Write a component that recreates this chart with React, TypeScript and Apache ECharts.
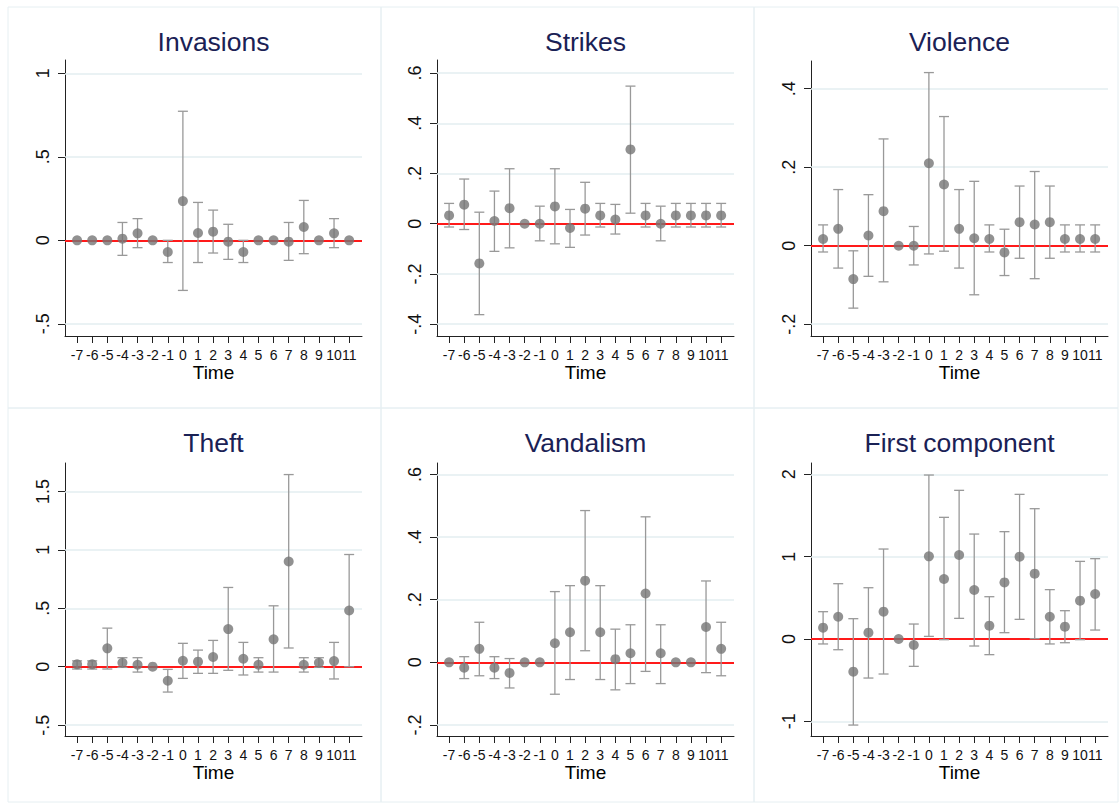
import React, { useEffect, useRef } from "react";
import * as echarts from "echarts";

// ---------- DATA ----------
const timeValues = [-7, -6, -5, -4, -3, -2, -1, 0, 1, 2, 3, 4, 5, 6, 7, 8, 9, 10, 11];

const invasionsEst = [0, 0, 0, 0.01, 0.042, 0, -0.07, 0.235, 0.044, 0.052, -0.008, -0.07, 0, 0, -0.008, 0.08, 0, 0.042, 0];
const invasionsLo = [0, 0, 0, -0.09, -0.044, 0, -0.133, -0.3, -0.133, -0.076, -0.114, -0.133, 0, 0, -0.12, -0.08, 0, -0.044, 0];
const invasionsHi = [0, 0, 0, 0.107, 0.13, 0, 0, 0.773, 0.227, 0.181, 0.096, 0, 0, 0, 0.107, 0.239, 0, 0.13, 0];

const strikesEst = [0.033, 0.076, -0.158, 0.011, 0.062, 0, 0, 0.069, -0.017, 0.06, 0.033, 0.017, 0.296, 0.033, 0, 0.033, 0.033, 0.033, 0.033];
const strikesLo = [-0.013, -0.023, -0.362, -0.11, -0.096, 0, -0.068, -0.08, -0.094, -0.045, -0.013, -0.041, 0.042, -0.013, -0.068, -0.013, -0.013, -0.013, -0.013];
const strikesHi = [0.081, 0.178, 0.046, 0.13, 0.219, 0, 0.07, 0.219, 0.057, 0.165, 0.081, 0.077, 0.548, 0.081, 0.07, 0.081, 0.081, 0.081, 0.081];

const violenceEst = [0.017, 0.043, -0.085, 0.026, 0.088, 0, 0, 0.21, 0.156, 0.043, 0.019, 0.017, -0.017, 0.06, 0.054, 0.06, 0.017, 0.017, 0.017];
const violenceLo = [-0.016, -0.057, -0.159, -0.078, -0.092, 0, -0.049, -0.021, -0.014, -0.057, -0.125, -0.016, -0.076, -0.032, -0.084, -0.032, -0.016, -0.016, -0.016];
const violenceHi = [0.053, 0.143, -0.013, 0.13, 0.272, 0, 0.049, 0.441, 0.329, 0.143, 0.164, 0.053, 0.042, 0.152, 0.189, 0.152, 0.053, 0.053, 0.053];

const theftEst = [0.02, 0.02, 0.157, 0.034, 0.017, 0, -0.12, 0.051, 0.043, 0.083, 0.322, 0.068, 0.017, 0.234, 0.9, 0.017, 0.034, 0.048, 0.481];
const theftLo = [-0.02, -0.02, -0.02, -0.006, -0.046, 0, -0.217, -0.1, -0.057, -0.057, -0.031, -0.071, -0.046, -0.046, 0.16, -0.046, -0.006, -0.105, 0];
const theftHi = [0.05, 0.05, 0.33, 0.077, 0.077, 0, -0.023, 0.2, 0.142, 0.225, 0.678, 0.208, 0.077, 0.521, 1.644, 0.077, 0.077, 0.208, 0.96];

const vandalismEst = [0, -0.017, 0.043, -0.017, -0.034, 0, 0, 0.061, 0.096, 0.261, 0.096, 0.01, 0.029, 0.22, 0.029, 0, 0, 0.113, 0.043];
const vandalismLo = [0, -0.052, -0.043, -0.052, -0.082, 0, 0, -0.102, -0.055, 0.037, -0.055, -0.088, -0.068, -0.029, -0.068, 0, 0, -0.033, -0.043];
const vandalismHi = [0, 0.018, 0.128, 0.018, 0.012, 0, 0, 0.226, 0.245, 0.485, 0.245, 0.106, 0.12, 0.465, 0.12, 0, 0, 0.26, 0.128];

const firstCompEst = [0.138, 0.271, -0.397, 0.077, 0.332, 0, -0.073, 1.004, 0.729, 1.02, 0.595, 0.162, 0.688, 1.0, 0.794, 0.271, 0.15, 0.466, 0.547];
const firstCompLo = [-0.06, -0.13, -1.045, -0.474, -0.425, 0, -0.332, 0.032, -0.008, 0.251, -0.085, -0.19, 0.077, 0.239, 0.004, -0.06, -0.045, -0.008, 0.109];
const firstCompHi = [0.332, 0.672, 0.247, 0.623, 1.093, 0, 0.182, 1.992, 1.478, 1.806, 1.275, 0.514, 1.304, 1.757, 1.583, 0.6, 0.344, 0.943, 0.976];

const invasionsTicks = [-0.5, 0, 0.5, 1];
const strikesTicks = [-0.4, -0.2, 0, 0.2, 0.4, 0.6];
const violenceTicks = [-0.2, 0, 0.2, 0.4];
const theftTicks = [-0.5, 0, 0.5, 1, 1.5];
const vandalismTicks = [-0.2, 0, 0.2, 0.4, 0.6];
const firstCompTicks = [-1, 0, 1, 2];

const panelTitles = ["Invasions", "Strikes", "Violence", "Theft", "Vandalism", "First component"];
const xAxisName = "Time";

// ---------- LAYOUT / STYLE ----------
const FONT = "'Liberation Sans', Arial, Helvetica, sans-serif";
const panels = [
  { title: panelTitles[0], est: invasionsEst, lo: invasionsLo, hi: invasionsHi, ticks: invasionsTicks, yMin: -0.573, yMax: 1.08, left: 65, top: 60, height: 276 },
  { title: panelTitles[1], est: strikesEst, lo: strikesLo, hi: strikesHi, ticks: strikesTicks, yMin: -0.447, yMax: 0.652, left: 437, top: 60, height: 276 },
  { title: panelTitles[2], est: violenceEst, lo: violenceLo, hi: violenceHi, ticks: violenceTicks, yMin: -0.23, yMax: 0.4705, left: 811, top: 61, height: 275 },
  { title: panelTitles[3], est: theftEst, lo: theftLo, hi: theftHi, ticks: theftTicks, yMin: -0.593, yMax: 1.743, left: 65, top: 463, height: 273 },
  { title: panelTitles[4], est: vandalismEst, lo: vandalismLo, hi: vandalismHi, ticks: vandalismTicks, yMin: -0.2355, yMax: 0.637, left: 437, top: 463, height: 273 },
  { title: panelTitles[5], est: firstCompEst, lo: firstCompLo, hi: firstCompHi, ticks: firstCompTicks, yMin: -1.178, yMax: 2.138, left: 811, top: 463, height: 273 },
];
const PLOT_W = 297;
const X_MIN = -7.8;
const X_MAX = 11.85;

function stataLabel(v: number): string {
  let s = String(Math.round(v * 1000) / 1000);
  s = s.replace(/^(-?)0\./, "$1.");
  return s;
}

export default function App() {
  const ref = useRef<HTMLDivElement>(null);

  useEffect(() => {
    if (!ref.current) return;
    const chart = echarts.init(ref.current, null, { renderer: "svg" });

    const grid: any[] = [];
    const xAxis: any[] = [];
    const yAxis: any[] = [];
    const series: any[] = [];
    const graphic: any[] = [];

    // panel borders
    const borders = [
      [8, 7, 373, 401], [381, 7, 373, 401], [754, 7, 364, 401],
      [8, 408, 373, 394], [381, 408, 373, 394], [754, 408, 364, 394],
    ];
    borders.forEach((b) => {
      graphic.push({
        type: "rect",
        shape: { x: b[0], y: b[1], width: b[2], height: b[3] },
        style: { fill: "none", stroke: "#e6eff2", lineWidth: 1 },
        silent: true,
        z: 0,
      });
    });

    panels.forEach((p, i) => {
      grid.push({ left: p.left, top: p.top, width: PLOT_W, height: p.height, containLabel: false });
      graphic.push({
        type: "text",
        x: p.left + PLOT_W / 2,
        y: i < 3 ? 42 : 443,
        style: {
          text: p.title,
          fill: "#1a2155",
          font: `26.5px ${FONT}`,
          textAlign: "center",
          textVerticalAlign: "middle",
        },
        silent: true,
      });
      xAxis.push({
        type: "value",
        gridIndex: i,
        min: X_MIN,
        max: X_MAX,
        name: xAxisName,
        nameLocation: "middle",
        nameGap: 27,
        nameTextStyle: { fontFamily: FONT, fontSize: 19, color: "#000" },
        axisLine: { show: true, onZero: false, lineStyle: { color: "#222", width: 1 } },
        axisTick: { show: true, length: 7, customValues: timeValues, lineStyle: { color: "#222", width: 1 } },
        axisLabel: {
          show: true,
          customValues: timeValues,
          hideOverlap: false,
          interval: 0,
          margin: 12,
          fontFamily: FONT,
          fontSize: 14,
          color: "#111",
          formatter: (v: number) => String(v),
        },
        splitLine: { show: false },
      });
      yAxis.push({
        type: "value",
        gridIndex: i,
        min: p.yMin,
        max: p.yMax,
        axisLine: { show: true, onZero: false, lineStyle: { color: "#222", width: 1 } },
        axisTick: { show: true, length: 7, customValues: p.ticks, lineStyle: { color: "#222", width: 1 } },
        axisLabel: {
          show: true,
          customValues: p.ticks,
          hideOverlap: false,
          rotate: 90,
          margin: 13,
          fontFamily: FONT,
          fontSize: 18,
          color: "#111",
          formatter: (v: number) => stataLabel(v),
        },
        splitLine: { show: false },
      });

      // grid lines + red zero line
      const mlData: any[] = p.ticks
        .filter((t) => t !== 0)
        .map((t) => ({ yAxis: t, lineStyle: { color: "#e3eef1", width: 1.5, type: "solid" } }));
      mlData.push({ yAxis: 0, lineStyle: { color: "#ff1a1a", width: 2, type: "solid" } });
      series.push({
        type: "line",
        xAxisIndex: i,
        yAxisIndex: i,
        data: [],
        silent: true,
        z: 1,
        markLine: {
          silent: true,
          symbol: ["none", "none"],
          label: { show: false },
          animation: false,
          z: 1,
          data: mlData,
        },
      });

      // error bars
      const barData = timeValues
        .map((t, k) => [t, p.lo[k], p.hi[k]])
        .filter((d) => d[1] !== d[2]);
      series.push({
        type: "custom",
        xAxisIndex: i,
        yAxisIndex: i,
        z: 5,
        silent: true,
        data: barData,
        encode: { x: 0, y: [1, 2] },
        renderItem: (params: any, api: any) => {
          const x = api.value(0);
          const top = api.coord([x, api.value(2)]);
          const bot = api.coord([x, api.value(1)]);
          const hw = 5;
          const st = { stroke: "#999999", lineWidth: 1.3 };
          return {
            type: "group",
            children: [
              { type: "line", shape: { x1: top[0], y1: top[1], x2: bot[0], y2: bot[1] }, style: st },
              { type: "line", shape: { x1: top[0] - hw, y1: top[1], x2: top[0] + hw, y2: top[1] }, style: st },
              { type: "line", shape: { x1: bot[0] - hw, y1: bot[1], x2: bot[0] + hw, y2: bot[1] }, style: st },
            ],
          };
        },
      });

      // point estimates
      series.push({
        type: "scatter",
        xAxisIndex: i,
        yAxisIndex: i,
        z: 10,
        symbol: "circle",
        symbolSize: 10,
        itemStyle: { color: "#767676" },
        silent: true,
        data: timeValues.map((t, k) => [t, p.est[k]]),
      });
    });

    chart.setOption({
      animation: false,
      backgroundColor: "#ffffff",
      textStyle: { fontFamily: FONT },
      grid,
      xAxis,
      yAxis,
      series,
      graphic,
    });

    return () => {
      chart.dispose();
    };
  }, []);

  return (
    <div
      ref={ref}
      style={{ position: "fixed", left: 0, top: 0, width: 1119, height: 803, background: "#fff" }}
    />
  );
}
